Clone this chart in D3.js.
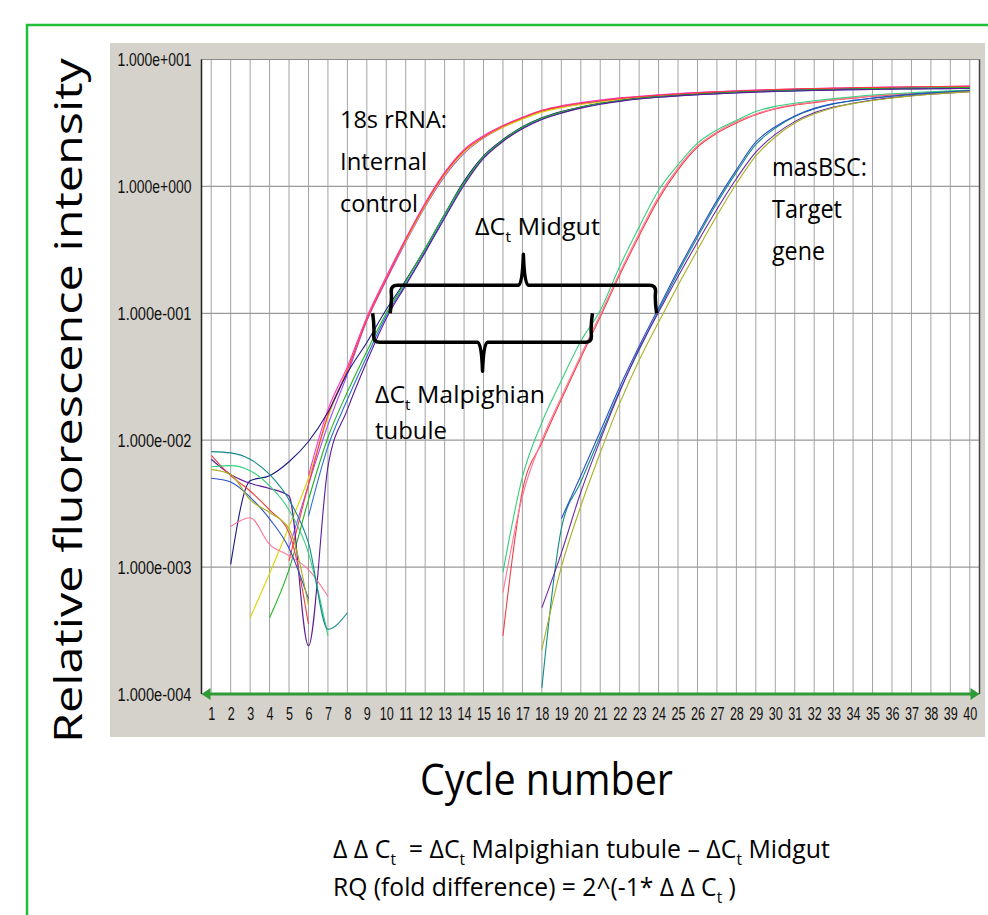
<!DOCTYPE html>
<html>
<head>
<meta charset="utf-8">
<script src="https://cdn.jsdelivr.net/npm/d3@7"></script>
<style>
  html, body { margin: 0; padding: 0; background: #ffffff; }
  svg { display: block; }
  text { white-space: pre; }
</style>
</head>
<body>
<svg id="chart" width="988" height="915"></svg>
<script>
// ---- amplification data: fluorescence per cycle (null = not plotted on log axis) ----
const cycles = [1,2,3,4,5,6,7,8,9,10,11,12,13,14,15,16,17,18,19,20,21,22,23,24,25,26,27,28,29,30,31,32,33,34,35,36,37,38,39,40];

const yTickValues = [10, 1, 0.1, 0.01, 0.001, 0.0001];
const yTickLabels = ["1.000e+001", "1.000e+000", "1.000e-001", "1.000e-002", "1.000e-003", "1.000e-004"];

// 18s rRNA internal control wells
const rrnaViolet  = [null,null,null,null,0.00141,0.00447,0.0132,0.0331,0.0871,0.182,0.363,0.692,1.20,1.82,2.40,2.92,3.43,3.89,4.22,4.47,4.68,4.90,5.07,5.25,5.37,5.50,5.56,5.62,5.69,5.75,5.82,5.89,5.92,5.96,5.98,6.03,6.05,6.08,6.11,6.14];
const rrnaYellow  = [null,null,0.000398,0.00089,0.00209,0.00501,0.0151,0.0363,0.0912,0.191,0.372,0.708,1.23,1.86,2.43,2.92,3.39,3.85,4.17,4.42,4.62,4.84,5.01,5.15,5.27,5.37,5.46,5.53,5.60,5.65,5.70,5.75,5.79,5.82,5.85,5.88,5.90,5.92,5.94,5.96];
const rrnaMagenta = [null,null,null,null,null,0.00525,0.0174,0.038,0.0933,0.195,0.389,0.741,1.29,1.95,2.51,3.02,3.51,3.98,4.32,4.57,4.79,4.98,5.13,5.27,5.40,5.50,5.59,5.67,5.74,5.80,5.86,5.91,5.95,5.99,6.03,6.06,6.09,6.12,6.15,6.17];
const rrnaRed     = [null,null,null,null,0.00112,0.00447,0.0158,0.0355,0.0891,0.186,0.380,0.724,1.26,1.91,2.45,2.99,3.47,3.94,4.27,4.52,4.73,4.92,5.08,5.22,5.35,5.46,5.56,5.65,5.73,5.79,5.85,5.90,5.94,5.98,6.02,6.05,6.08,6.11,6.13,6.15];
const rrnaNavy    = [null,0.00105,0.00479,0.00525,0.00676,0.00977,0.0166,0.0339,0.0589,0.107,0.182,0.324,0.603,1.10,1.74,2.34,2.95,3.47,3.89,4.22,4.52,4.75,4.95,5.11,5.22,5.33,5.43,5.52,5.60,5.66,5.71,5.76,5.80,5.84,5.87,5.90,5.92,5.94,5.96,5.98];
const rrnaBlue    = [null,null,null,null,null,0.00251,0.00891,0.0209,0.0457,0.0955,0.170,0.309,0.575,1.05,1.70,2.29,2.88,3.39,3.80,4.17,4.47,4.70,4.90,5.05,5.18,5.28,5.38,5.47,5.55,5.61,5.66,5.71,5.75,5.79,5.82,5.85,5.87,5.89,5.91,5.92];
const rrnaGreen   = [null,null,null,0.000398,0.000955,0.00339,0.0105,0.024,0.0501,0.100,0.178,0.324,0.603,1.07,1.72,2.31,2.92,3.44,3.85,4.20,4.50,4.73,4.93,5.09,5.21,5.32,5.42,5.51,5.59,5.65,5.71,5.76,5.81,5.85,5.89,5.92,5.95,5.97,5.99,6.01];
const rrnaPurple  = [0.00708,0.00537,0.00457,0.00417,0.00363,0.00024,0.00617,0.0174,0.0417,0.0912,0.166,0.302,0.562,1.02,1.66,2.26,2.85,3.37,3.78,4.14,4.44,4.68,4.88,5.04,5.17,5.27,5.36,5.45,5.53,5.60,5.65,5.70,5.74,5.78,5.81,5.84,5.86,5.88,5.90,5.91];

// masBSC target gene, Malpighian tubule wells
const malpRed   = [0.00759,0.00525,0.00398,0.00282,0.00186,0.000355,null,null,null,null,null,null,null,null,null,0.000288,0.00398,0.00955,0.0209,0.0447,0.0933,0.200,0.407,0.794,1.35,2.04,2.63,3.16,3.67,4.07,4.37,4.57,4.79,4.95,5.13,5.25,5.37,5.47,5.56,5.62];
const malpPink  = [null,0.00209,0.00245,0.00151,0.00123,0.000955,0.000589,null,null,null,null,null,null,null,null,0.000631,0.00363,0.0100,0.0219,0.0468,0.0977,0.209,0.427,0.832,1.40,2.09,2.69,3.24,3.72,4.12,4.42,4.62,4.84,5.01,5.16,5.30,5.41,5.51,5.60,5.68];
const malpGreen = [0.00617,0.00631,0.00575,0.00437,0.00282,0.00129,0.000288,null,null,null,null,null,null,null,null,0.000912,0.00513,0.0138,0.0295,0.0603,0.105,0.234,0.479,0.933,1.48,2.19,2.79,3.31,3.89,4.27,4.52,4.73,4.92,5.09,5.25,5.37,5.47,5.57,5.66,5.75];

// masBSC target gene, midgut wells
const midTeal   = [0.00813,0.00794,0.00708,0.00537,0.00339,0.00155,0.000324,0.000437,null,null,null,null,null,null,null,null,null,0.000112,0.0020,0.00468,0.0107,0.0245,0.0513,0.105,0.209,0.398,0.741,1.29,2.14,2.88,3.55,4.07,4.47,4.73,4.95,5.13,5.31,5.43,5.56,5.69];
const midBlue   = [0.00501,0.00468,0.00355,0.0024,0.00141,0.000562,null,null,null,null,null,null,null,null,null,null,null,null,0.0024,0.00525,0.0117,0.0263,0.055,0.110,0.219,0.417,0.776,1.35,2.24,2.95,3.59,4.12,4.49,4.76,4.98,5.15,5.32,5.46,5.57,5.70];
const midPurple = [null,null,null,null,null,null,null,null,null,null,null,null,null,null,null,null,null,0.000479,0.00129,0.00389,0.0100,0.024,0.0525,0.102,0.195,0.363,0.661,1.15,1.86,2.57,3.24,3.80,4.22,4.52,4.79,5.01,5.19,5.33,5.46,5.58];
const midOlive  = [0.00589,0.00537,0.00339,0.00269,0.0020,0.000501,null,null,null,null,null,null,null,null,null,null,null,0.000224,0.0010,0.00302,0.00794,0.0195,0.0427,0.0851,0.166,0.316,0.589,1.05,1.74,2.45,3.16,3.72,4.17,4.49,4.75,4.98,5.16,5.32,5.46,5.58];

// threshold and Ct positions bracketed by the ΔCt annotations
const threshold = 0.1;
const ctMidgut = [10.2, 23.9];      // 18s control, masBSC target
const ctMalpighian = [9.3, 20.6];

// ---- styling ----
const seriesList = [
  { values: rrnaViolet,  color: "#9a4dff" },
  { values: rrnaYellow,  color: "#dcd400" },
  { values: rrnaMagenta, color: "#ff33cc" },
  { values: rrnaRed,     color: "#ff3b3b" },
  { values: rrnaNavy,    color: "#1a1a80" },
  { values: rrnaBlue,    color: "#2b6fd6" },
  { values: rrnaGreen,   color: "#22b322" },
  { values: rrnaPurple,  color: "#5c1a99" },
  { values: malpRed,     color: "#f04040" },
  { values: malpPink,    color: "#ff7799" },
  { values: malpGreen,   color: "#33d17a" },
  { values: midTeal,     color: "#118a8a" },
  { values: midBlue,     color: "#2850c8" },
  { values: midPurple,   color: "#6a2aa8" },
  { values: midOlive,    color: "#a8b020" }
];

const LABEL_FONT = "'Open Sans', 'Noto Sans', sans-serif";
const TICK_FONT = "'Liberation Sans', Arial, sans-serif";

const svg = d3.select("#chart");

const plot = { left: 201.5, right: 979.5, top: 59.5, bottom: 694 };

const x = d3.scaleLinear().domain([0.5, 40.5]).range([plot.left, plot.right]);
const y = d3.scaleLog().domain([1e-4, 10]).range([plot.bottom, plot.top]);

// outer frame
svg.append("path")
  .attr("d", "M27,915 L27,25 L988,25")
  .attr("fill", "none").attr("stroke", "#1fbf3a").attr("stroke-width", 2.5);

// instrument window background
svg.append("rect").attr("x", 110).attr("y", 43).attr("width", 875).attr("height", 694)
  .attr("fill", "#d5d2cb");

svg.append("rect")
  .attr("x", plot.left).attr("y", plot.top)
  .attr("width", plot.right - plot.left).attr("height", plot.bottom - plot.top)
  .attr("fill", "#ffffff");

// grid
const grid = svg.append("g");
grid.selectAll("line.v").data(cycles).join("line")
  .attr("x1", d => x(d)).attr("x2", d => x(d))
  .attr("y1", plot.top).attr("y2", plot.bottom)
  .attr("stroke", "#a3a3a3").attr("stroke-width", 1);
grid.selectAll("line.h").data(yTickValues).join("line")
  .attr("x1", plot.left).attr("x2", plot.right)
  .attr("y1", d => y(d)).attr("y2", d => y(d))
  .attr("stroke", "#9a9a9a").attr("stroke-width", 1.2);

// plot frame
svg.append("line").attr("x1", plot.left).attr("x2", plot.right).attr("y1", plot.top).attr("y2", plot.top)
  .attr("stroke", "#8a8a8a").attr("stroke-width", 1);
svg.append("line").attr("x1", plot.left).attr("x2", plot.left).attr("y1", plot.top).attr("y2", plot.bottom)
  .attr("stroke", "#222").attr("stroke-width", 1.5);
svg.append("line").attr("x1", plot.right).attr("x2", plot.right).attr("y1", plot.top).attr("y2", plot.bottom)
  .attr("stroke", "#444").attr("stroke-width", 1.5);

// amplification curves
const line = d3.line()
  .defined(d => d.v != null)
  .x(d => x(d.c))
  .y(d => y(d.v))
  .curve(d3.curveMonotoneX);

svg.append("g").selectAll("path").data(seriesList).join("path")
  .attr("d", s => line(s.values.map((v, i) => ({ c: cycles[i], v }))))
  .attr("fill", "none")
  .attr("stroke", s => s.color)
  .attr("stroke-width", 1.1);

// green cycle axis with arrowheads
const axisY = y(1e-4);
svg.append("line")
  .attr("x1", plot.left + 4).attr("x2", plot.right - 4)
  .attr("y1", axisY).attr("y2", axisY)
  .attr("stroke", "#2f9a36").attr("stroke-width", 3);
svg.append("path")
  .attr("d", `M${plot.left},${axisY} l9,-6 l0,12 Z M${plot.right},${axisY} l-9,-6 l0,12 Z`)
  .attr("fill", "#2f9a36");

// axes (labels only)
const yAxis = svg.append("g")
  .attr("transform", `translate(${plot.left},0)`)
  .call(d3.axisLeft(y).tickValues(yTickValues).tickSize(0).tickPadding(10)
    .tickFormat((d, i) => yTickLabels[i]));
yAxis.select(".domain").remove();
yAxis.selectAll("text")
  .attr("font-family", TICK_FONT).attr("font-size", 18).attr("fill", "#111")
  .attr("dy", "0.36em")
  .attr("textLength", 74).attr("lengthAdjust", "spacingAndGlyphs");

const xAxis = svg.append("g")
  .attr("transform", `translate(0,${axisY})`)
  .call(d3.axisBottom(x).tickValues(cycles).tickSize(0).tickPadding(14)
    .tickFormat(d => String(d)));
xAxis.select(".domain").remove();
xAxis.selectAll("text")
  .attr("font-family", TICK_FONT).attr("font-size", 17.5).attr("fill", "#111")
  .attr("textLength", d => String(d).length * 7)
  .attr("lengthAdjust", "spacingAndGlyphs");

// text helper: parts are [string, isSubscript]; text is squeezed to the given width
function fitText(parent, px, py, parts, size, width, rotate) {
  const g = parent.append("g");
  const t = g.append("text")
    .attr("font-family", LABEL_FONT).attr("font-size", size).attr("fill", "#000");
  const shift = size * 0.28;
  let lowered = false;
  parts.forEach(([str, sub]) => {
    const ts = t.append("tspan").text(str);
    if (sub && !lowered) { ts.attr("dy", shift).attr("font-size", size * 0.62); lowered = true; }
    else if (sub) { ts.attr("font-size", size * 0.62); }
    else if (lowered) { ts.attr("dy", -shift); lowered = false; }
  });
  const natural = t.node().getComputedTextLength();
  const sx = width / natural;
  g.attr("transform", `translate(${px},${py})${rotate ? " rotate(-90)" : ""} scale(${sx},1)`);
  return g;
}

// axis titles
fitText(svg, 82, 743, [["Relative fluorescence intensity"]], 39, 685, true);
fitText(svg, 420, 795, [["Cycle number"]], 43, 253);

// annotations
const notes = svg.append("g");
fitText(notes, 340, 128, [["18s rRNA:"]], 23.5, 107);
fitText(notes, 340, 170, [["Internal"]], 23.5, 87);
fitText(notes, 340, 212, [["control"]], 23.5, 78);

fitText(notes, 772, 176, [["masBSC:"]], 25, 95);
fitText(notes, 772, 218, [["Target"]], 25, 70);
fitText(notes, 772, 260, [["gene"]], 25, 53);

fitText(notes, 475, 235, [["ΔC"], ["t", true], [" Midgut"]], 24, 125);
fitText(notes, 375, 403, [["ΔC"], ["t", true], [" Malpighian"]], 24, 170);
fitText(notes, 375, 439, [["tubule"]], 24, 72);

// ΔCt braces at the threshold line
function brace(ctPair, barOffset, spikeOffset) {
  const yT = y(threshold);
  const xL = x(ctPair[0]), xR = x(ctPair[1]), xM = (xL + xR) / 2;
  const yB = yT + barOffset, yS = yT + spikeOffset;
  const s = Math.sign(barOffset);
  const p = d3.path();
  p.moveTo(xL, yT);
  p.quadraticCurveTo(xL + 2, (yT + yB) / 2, xL + 1, yB - s * 6);
  p.quadraticCurveTo(xL + 1, yB, xL + 7, yB);
  p.lineTo(xM - 5, yB);
  p.quadraticCurveTo(xM - 1, yB, xM, yS);
  p.quadraticCurveTo(xM + 1, yB, xM + 5, yB);
  p.lineTo(xR - 7, yB);
  p.quadraticCurveTo(xR - 1, yB, xR - 1, yB - s * 6);
  p.quadraticCurveTo(xR - 2, (yT + yB) / 2, xR, yT);
  notes.append("path").attr("d", p.toString())
    .attr("fill", "none").attr("stroke", "#000").attr("stroke-width", 3.5)
    .attr("stroke-linejoin", "round");
}
brace(ctMidgut, -28, -59);
brace(ctMalpighian, 29, 58);

// formula
fitText(svg, 333, 858,
  [["Δ Δ C"], ["t", true], ["  = ΔC"], ["t", true], [" Malpighian tubule – ΔC"], ["t", true], [" Midgut"]],
  25, 497);
fitText(svg, 333, 896,
  [["RQ (fold difference) = 2^(-1* Δ Δ C"], ["t", true], [" )"]],
  25, 403);
</script>
</body>
</html>
